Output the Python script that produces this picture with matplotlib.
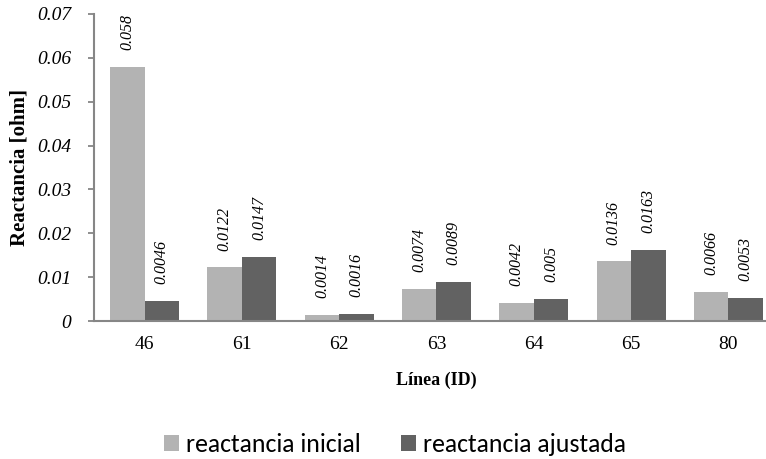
import matplotlib
matplotlib.use("Agg")
import matplotlib.pyplot as plt
import numpy as np

lineas = ["46", "61", "62", "63", "64", "65", "80"]
reactancia_inicial = [0.058, 0.0122, 0.0014, 0.0074, 0.0042, 0.0136, 0.0066]
reactancia_ajustada = [0.0046, 0.0147, 0.0016, 0.0089, 0.005, 0.0163, 0.0053]
y_ticks = [0, 0.01, 0.02, 0.03, 0.04, 0.05, 0.06, 0.07]
y_tick_labels = ["0", "0.01", "0.02", "0.03", "0.04", "0.05", "0.06", "0.07"]

c_ini = "#b3b3b3"
c_aju = "#626262"
axis_col = "#868686"
plt.rcParams["font.family"] = ["Liberation Serif", "DejaVu Serif"]

W, H = 766, 459
fig = plt.figure(figsize=(W / 100, H / 100), dpi=100)
ax = fig.add_axes([94 / W, 1 - 321 / H, 683 / W, 307 / H])

x = np.arange(len(lineas))
w = 0.355
b1 = ax.bar(x - w / 2, reactancia_inicial, w, color=c_ini, label="reactancia inicial")
b2 = ax.bar(x + w / 2, reactancia_ajustada, w, color=c_aju, label="reactancia ajustada")

for bars, vals in ((b1, reactancia_inicial), (b2, reactancia_ajustada)):
    for rect, v in zip(bars, vals):
        ax.annotate(f"{v:g}", (rect.get_x() + rect.get_width() / 2, v),
                    xytext=(0, 12), textcoords="offset points",
                    rotation=90, ha="center", va="bottom",
                    fontsize=11.5, fontstyle="italic", color="#000000")

ax.set_xlim(-0.52, len(lineas) - 0.5)
ax.set_ylim(0, 0.07)
ax.set_yticks(y_ticks)
ax.set_yticklabels(y_tick_labels)
ax.set_xticks(x)
ax.set_xticklabels(lineas)
ax.tick_params(axis="x", length=0, pad=11, labelsize=14)
ax.tick_params(axis="y", length=4.5, width=1.3, direction="out", color=axis_col,
               pad=12, labelsize=14)
for t in ax.get_yticklabels():
    t.set_fontstyle("italic")

for s in ("top", "right"):
    ax.spines[s].set_visible(False)
for s in ("left", "bottom"):
    ax.spines[s].set_color(axis_col)
    ax.spines[s].set_linewidth(1.5)

ax.set_ylabel("Reactancia [ohm]", fontweight="bold", fontsize=15)
ax.yaxis.set_label_coords(-(94 - 19.5) / 683, 0.5)
ax.set_xlabel("Línea (ID)", fontweight="bold", fontsize=13)
ax.xaxis.set_label_coords((436 - 94) / 683, -(380 - 321) / 307)
ax.xaxis.label.set_va("center")
ax.yaxis.label.set_va("center")

fig.legend(handles=[b1, b2], loc="center", bbox_to_anchor=(395 / W, 1 - 445 / H),
           ncol=2, frameon=False, prop={"family": "Carlito", "size": 18.5},
           handlelength=0.58, handleheight=0.58, handletextpad=0.27,
           columnspacing=1.55, borderpad=0)

fig.savefig("out.png", dpi=100)
